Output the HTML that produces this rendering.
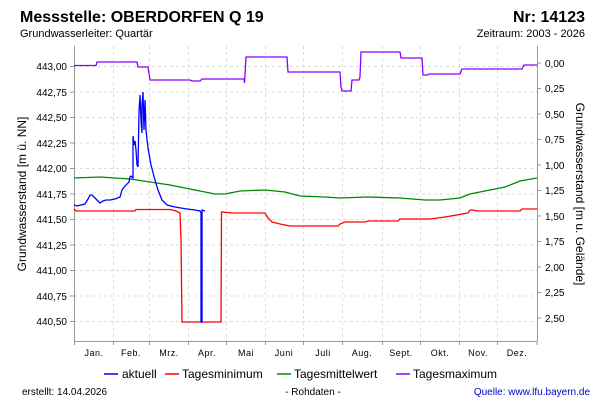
<!DOCTYPE html>
<html><head><meta charset="utf-8"><style>
body{margin:0;background:#fff;}
svg{display:block;font-family:"Liberation Sans",sans-serif;}
</style></head><body>
<svg width="600" height="400" viewBox="0 0 600 400" xmlns="http://www.w3.org/2000/svg">
<rect width="600" height="400" fill="#fff"/>
<text x="20" y="22" font-size="16" font-weight="bold">Messstelle: OBERDORFEN Q 19</text>
<text x="585" y="22" font-size="16" font-weight="bold" text-anchor="end">Nr: 14123</text>
<text x="20" y="37" font-size="11">Grundwasserleiter: Quartär</text>
<text x="585" y="37" font-size="11" text-anchor="end">Zeitraum: 2003 - 2026</text>
<g stroke="#ddd" stroke-dasharray="3,3" stroke-width="1">
<line x1="74" x2="537" y1="66.5" y2="66.5"/><line x1="74" x2="537" y1="92" y2="92"/><line x1="74" x2="537" y1="117.5" y2="117.5"/><line x1="74" x2="537" y1="143" y2="143"/><line x1="74" x2="537" y1="168.5" y2="168.5"/><line x1="74" x2="537" y1="194" y2="194"/><line x1="74" x2="537" y1="219.5" y2="219.5"/><line x1="74" x2="537" y1="245" y2="245"/><line x1="74" x2="537" y1="270.5" y2="270.5"/><line x1="74" x2="537" y1="296" y2="296"/><line x1="74" x2="537" y1="321.5" y2="321.5"/>
<line x1="113.5" x2="113.5" y1="46" y2="341"/><line x1="149.5" x2="149.5" y1="46" y2="341"/><line x1="188.5" x2="188.5" y1="46" y2="341"/><line x1="226.5" x2="226.5" y1="46" y2="341"/><line x1="265.5" x2="265.5" y1="46" y2="341"/><line x1="303.5" x2="303.5" y1="46" y2="341"/><line x1="342.5" x2="342.5" y1="46" y2="341"/><line x1="382.5" x2="382.5" y1="46" y2="341"/><line x1="420.5" x2="420.5" y1="46" y2="341"/><line x1="459.5" x2="459.5" y1="46" y2="341"/><line x1="497.5" x2="497.5" y1="46" y2="341"/>
</g>
<g stroke="#999" fill="none"><line x1="74.5" y1="46" x2="74.5" y2="341"/><line x1="74" y1="341.5" x2="537" y2="341.5"/><line x1="537.5" y1="46" x2="537.5" y2="341"/>
<path d="M74.5 341v4M113.5 341v4M149.5 341v4M188.5 341v4M226.5 341v4M265.5 341v4M303.5 341v4M342.5 341v4M382.5 341v4M420.5 341v4M459.5 341v4M497.5 341v4M537 341v4"/>
<path d="M70 66.5h4M70 92h4M70 117.5h4M70 143h4M70 168.5h4M70 194h4M70 219.5h4M70 245h4M70 270.5h4M70 296h4M70 321.5h4"/>
<path d="M537 63h4M537 88.5h4M537 114h4M537 139.5h4M537 165h4M537 190.5h4M537 216h4M537 241.5h4M537 267h4M537 292.5h4M537 318h4"/>
</g>
<g font-size="10" text-anchor="end">
<text x="67" y="70">443,00</text><text x="67" y="96">442,75</text><text x="67" y="121">442,50</text><text x="67" y="147">442,25</text><text x="67" y="172">442,00</text><text x="67" y="198">441,75</text><text x="67" y="223">441,50</text><text x="67" y="249">441,25</text><text x="67" y="274">441,00</text><text x="67" y="300">440,75</text><text x="67" y="325">440,50</text>
</g>
<g font-size="10">
<text x="545" y="67">0,00</text><text x="545" y="92">0,25</text><text x="545" y="118">0,50</text><text x="545" y="143">0,75</text><text x="545" y="169">1,00</text><text x="545" y="194">1,25</text><text x="545" y="220">1,50</text><text x="545" y="245">1,75</text><text x="545" y="271">2,00</text><text x="545" y="296">2,25</text><text x="545" y="322">2,50</text>
</g>
<g font-size="9" text-anchor="middle" letter-spacing="0.5">
<text x="94" y="356">Jan.</text><text x="131" y="356">Feb.</text><text x="169" y="356">Mrz.</text><text x="207" y="356">Apr.</text><text x="246" y="356">Mai</text><text x="284" y="356">Juni</text><text x="323" y="356">Juli</text><text x="362" y="356">Aug.</text><text x="401" y="356">Sept.</text><text x="440" y="356">Okt.</text><text x="478" y="356">Nov.</text><text x="517" y="356">Dez.</text>
</g>
<text transform="translate(26,194) rotate(-90)" font-size="12" text-anchor="middle">Grundwasserstand [m ü. NN]</text>
<text transform="translate(576,194) rotate(90)" font-size="12" text-anchor="middle">Grundwasserstand [m u. Gelände]</text>
<g fill="none" stroke-width="1.3">
<polyline stroke="#8800ff" points="74,65.5 96,65.5 97,62 137,62 138,67 148,67 150,80 190,80 192,81 200,81 202,79 244,79 244.5,83 246,57 287,57 288,72 340,72 341,87 342,91 351,91 352,80 359,80 360,77 361,52 400,52 401,58 422,58 423,75 428,75 429,74 460,74 462,69 522,69 524,65 537,65"/>
<polyline stroke="#008800" points="74,178 100,177 130,179 150,182 170,185 185,188 200,191 215,194 225,194 240,191 265,190 285,192 300,196 325,197 340,198 367,197 400,198 425,200 440,200 460,198 470,194 490,190 505,187 520,181 537,178"/>
<polyline stroke="#ff0000" points="74,209 76,211 135,211 136,209.5 170,209.5 176,211 180,213 181,240 182,322 221,322 221.5,212 232,213 265,213 268,218 272,222 280,224 290,226 338,226 340,224 345,222 365,222 368,221 398,221 400,219 430,219 445,217 468,213 470,210 473,210 477,211 520,211 522,209 537,209"/>
<polyline stroke="#0000ff" points="74,205 77,206 85,204 88,199 90,195 92,195 96,199 100,203 103,201 106,200 110,200 115,199 120,197 122,190 125,186 129,182 130,177 131,176 133,178 133,136 134,145 135,141 136,150 137,165 138,167 139,112 140,95 141,120 142,133 142,105 143,92 144,130 145,100 146,130 148,148 151,165 155,180 158,190 162,200 167,205 175,207 187,209 195,210 200,211 201,213 201,322 202,322 202,210 205,211"/>
</g>
<g font-size="12">
<line x1="104" y1="374" x2="118" y2="374" stroke="#0000ff" stroke-width="1.5"/><text x="122" y="378">aktuell</text>
<line x1="165" y1="374" x2="179" y2="374" stroke="#ff0000" stroke-width="1.5"/><text x="182" y="378">Tagesminimum</text>
<line x1="277" y1="374" x2="291" y2="374" stroke="#008800" stroke-width="1.5"/><text x="294" y="378">Tagesmittelwert</text>
<line x1="396" y1="374" x2="410" y2="374" stroke="#8800ff" stroke-width="1.5"/><text x="413" y="378">Tagesmaximum</text>
</g>
<text x="22" y="395" font-size="10">erstellt:  14.04.2026</text>
<text x="313" y="395" font-size="10" text-anchor="middle">- Rohdaten -</text>
<text x="590" y="395" font-size="10" text-anchor="end" fill="#0000cc">Quelle: www.lfu.bayern.de</text>
</svg>
</body></html>
